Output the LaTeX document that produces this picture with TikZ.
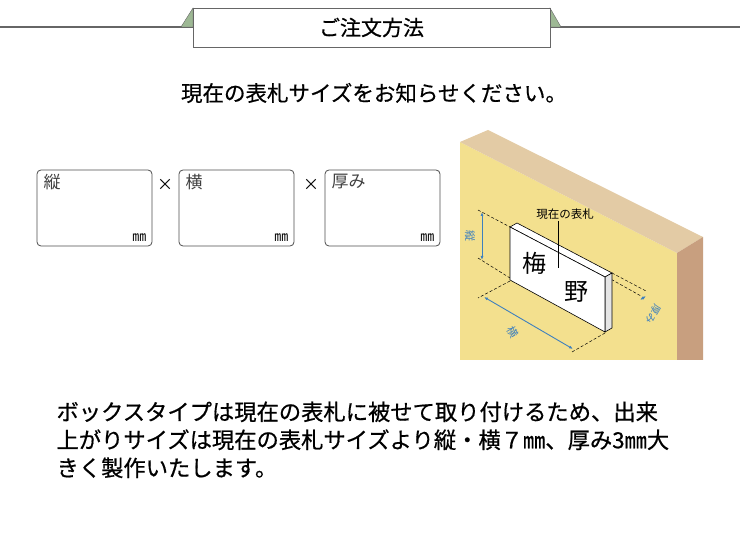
\documentclass[tikz,border=0pt]{standalone}
\usepackage{fontspec}
\setmainfont{Noto Sans CJK JP}
\newfontfamily\medfont{Noto Sans CJK JP}[FakeBold=0.6]
\usetikzlibrary{arrows.meta}
\definecolor{boxgreen}{HTML}{9DB894}
\definecolor{wallyellow}{HTML}{F3E08E}
\definecolor{walltop}{HTML}{E3CBA5}
\definecolor{wallside}{HTML}{C89F7F}
\definecolor{dimblue}{HTML}{3E80BE}
\tikzset{
  sizebox/.style={draw=black!70,rounded corners=4pt,line width=0.8pt},
  dimline/.style={densely dashed,line width=0.5pt},
  dimarrow/.style={dimblue,line width=0.9pt,{Latex[length=4pt]}-{Latex[length=4pt]}},
}
\begin{document}
\begin{tikzpicture}[x=1pt,y=-1pt]
    \useasboundingbox (0,0) rectangle (740,540);
    % Header:
    \draw [line width=1.2pt,black!60] (0,27) -- (740,27);
    \fill [boxgreen,draw=black!60] (181,27) -- (193,8) -- (193,27) -- cycle;
    \fill [boxgreen,draw=black!60] (561,27) -- (550,8) -- (550,27) -- cycle;
    \node [draw=black!60,fill=white,line width=0.8pt,minimum width=357pt,minimum height=39pt,font=\medfont\fontsize{21}{24}\selectfont]
        (title) at (371.5,27.5) {ご注文方法};
    \node [font=\medfont\fontsize{21.5}{24}\selectfont] (lead) at (374,93) {現在の表札サイズをお知らせください。};

    % Size boxes:
    \foreach \x/\lab [count=\i] in {37/縦,179/横,325/厚み}{
        \draw [sizebox] (\x,170) rectangle (\x+115,246);
        \node [anchor=north west,font=\fontsize{17}{19}\selectfont,black!75] (lab\i) at (\x+3,171) {\lab};
        \node [anchor=south east,font=\fontsize{14}{16}\selectfont] (mm\i) at (\x+113,245) {㎜};
    }
    \node [font=\fontsize{16}{18}\selectfont] (times1) at (165,185) {×};
    \node [font=\fontsize{16}{18}\selectfont] (times2) at (311,185) {×};

    % Wall:
    \fill [wallyellow] (460,142) -- (677,253) -- (677,360) -- (460,360) -- cycle;
    \fill [walltop] (460,142) -- (488,130) -- (703,237) -- (677,253) -- cycle;
    \fill [wallside] (677,253) -- (703,237) -- (703,360) -- (677,360) -- cycle;

    % Dimension lines:
    \draw [dimline] (478,210) -- (510,227);
    \draw [dimline] (478,258) -- (510,278);
    \draw [dimline] (510,281) -- (478,298);
    \draw [dimline] (605,333) -- (572,352);
    \draw [dimline] (607,277) -- (641,296);
    \draw [dimline] (612,273) -- (646,291);
    \draw [dimarrow] (482,212) -- (482,260);
    \draw [dimarrow] (484,297) -- (573,349);
    \draw [dimarrow] (640,300) -- (646,296);
    \node [dimblue,rotate=-90,font=\fontsize{11}{12}\selectfont] (tate) at (470,236) {縦};
    \node [dimblue,rotate=-60,font=\fontsize{11}{12}\selectfont] (yoko) at (513,332) {横};
    \node [dimblue,rotate=-120,font=\fontsize{10}{12}\selectfont,inner sep=0pt] (atsumi) at (653,314) {厚み};

    % Plate:
    \draw [fill=white,line width=0.6pt] (510,227) -- (517,223) -- (612,273) -- (605,277) -- cycle;
    \draw [fill=black!10,line width=0.6pt] (605,277) -- (612,273) -- (612,328) -- (605,332) -- cycle;
    \draw [fill=white,line width=0.6pt] (510,227) -- (605,277) -- (605,332) -- (510,280) -- cycle;
    \node [font=\fontsize{24}{26}\selectfont] (ume) at (534,263) {梅};
    \node [font=\fontsize{24}{26}\selectfont] (no) at (576,292) {野};
    \node [font=\fontsize{11.5}{13}\selectfont] (plate) at (565,214) {現在の表札};
    \coordinate (tip) at (558,268);
    \draw [line width=0.4pt] (558,221) -- (tip);

    % Note:
    \node [anchor=north west,align=left,font=\medfont\fontsize{22.3}{28}\selectfont] (note) at (53,398)
        {ボックスタイプは現在の表札に被せて取り付けるため、出来\\
         上がりサイズは現在の表札サイズより縦・横７㎜、厚み3㎜大\\
         きく製作いたします。};
\end{tikzpicture}
\end{document}
